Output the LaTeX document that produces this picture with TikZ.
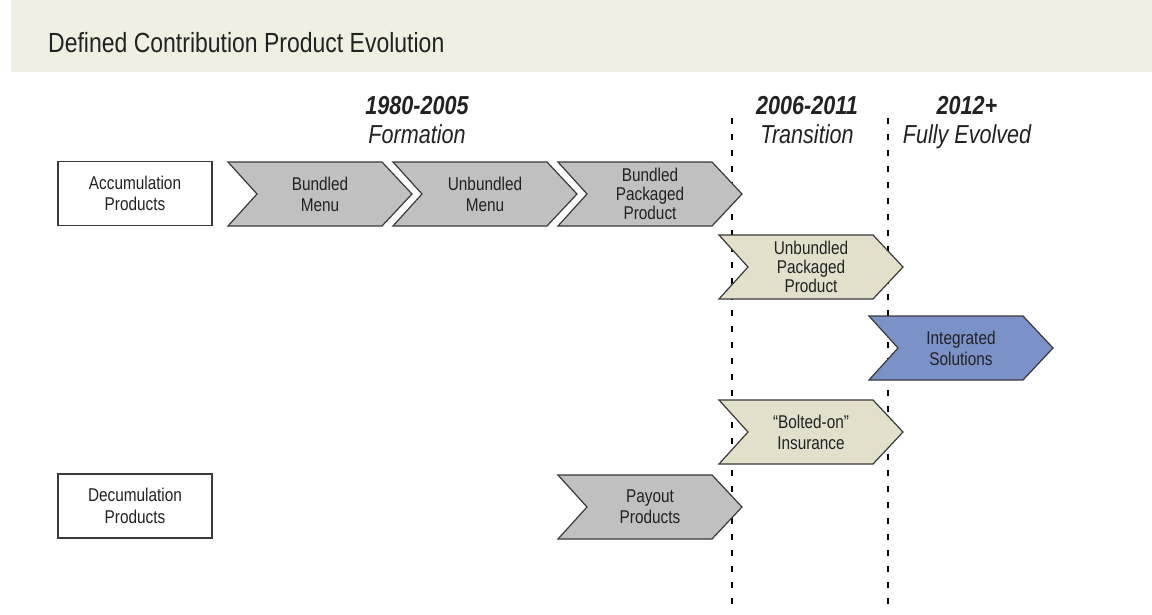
\documentclass[tikz,border=0pt]{standalone}
\usepackage{fontspec}
\setmainfont{Liberation Sans}[FakeStretch=0.83]
\definecolor{bandfill}{RGB}{240,239,228}
\definecolor{greyfill}{RGB}{192,192,192}
\definecolor{beigefill}{RGB}{226,224,203}
\definecolor{bluefill}{RGB}{123,146,201}
\definecolor{edge}{RGB}{58,58,58}
\definecolor{ink}{RGB}{34,34,34}
\tikzset{
  chevshape/.style={draw=edge, line width=1.2pt, line join=miter},
  chevtext/.style={text=ink, align=center, font=\fontsize{18.5}{21}\selectfont, inner sep=0pt},
  chevtextthree/.style={chevtext, font=\fontsize{18.5}{19}\selectfont},
  rowbox/.style={draw=edge, line width=1.2pt, fill=white, text=ink, align=center,
    font=\fontsize{18.5}{21.5}\selectfont, minimum width=154pt, minimum height=64pt, inner sep=0pt},
  period/.style={text=ink, align=center, inner sep=0pt},
  divider/.style={draw=black, line width=1.4pt, dash pattern=on 6pt off 10pt},
}
% chevron: name, left x, top y, fill colour, text style, text
\newcommand{\chevronstep}[6]{%
  \path[chevshape, fill=#4] (#2,#3) -- ({#2+154},#3) -- ({#2+184},{#3+32})
    -- ({#2+154},{#3+64}) -- (#2,{#3+64}) -- ({#2+29},{#3+32}) -- cycle;
  \node[#5] (#1) at ({#2+92},{#3+32}) {#6};%
}
\begin{document}
\begin{tikzpicture}[x=1pt, y=-1pt]
\useasboundingbox (0,0) rectangle (1152,614);
\fill[white] (0,0) rectangle (1152,614);

% title band
\fill[bandfill] (11,0) rectangle (1152,72);
\node[anchor=base west, text=ink, inner sep=0pt, font=\fontsize{27.7}{30}\selectfont]
  (title) at (48,52) {Defined Contribution Product Evolution};

% period headings
\node[period, anchor=base] (p1a) at (417,114) {\fontsize{26}{29}\selectfont\bfseries\itshape 1980-2005};
\node[period, anchor=base] (p1b) at (417,143) {\fontsize{26}{29}\selectfont\itshape Formation};
\node[period, anchor=base] (p2a) at (807,114) {\fontsize{26}{29}\selectfont\bfseries\itshape 2006-2011};
\node[period, anchor=base] (p2b) at (807,143) {\fontsize{26}{29}\selectfont\itshape Transition};
\node[period, anchor=base] (p3a) at (967,114) {\fontsize{26}{29}\selectfont\bfseries\itshape 2012+};
\node[period, anchor=base] (p3b) at (967,143) {\fontsize{26}{29}\selectfont\itshape Fully Evolved};

% era dividers
\coordinate (d1top) at (732,118);
\coordinate (d1bot) at (732,614);
\coordinate (d2top) at (888,118);
\coordinate (d2bot) at (888,614);
\draw[divider] (d1top) -- (d1bot);
\draw[divider] (d2top) -- (d2bot);

% product rows
\node[rowbox] (acc) at (135,193.5) {Accumulation\\Products};
\node[rowbox] (dec) at (135,506) {Decumulation\\Products};

\chevronstep{bm}{228}{162}{greyfill}{chevtext}{Bundled\\Menu}
\chevronstep{um}{393}{162}{greyfill}{chevtext}{Unbundled\\Menu}
\chevronstep{bpp}{558}{162}{greyfill}{chevtextthree}{Bundled\\Packaged\\Product}
\chevronstep{upp}{719}{235}{beigefill}{chevtextthree}{Unbundled\\Packaged\\Product}
\chevronstep{is}{869}{316}{bluefill}{chevtext}{Integrated\\Solutions}
\chevronstep{boi}{719}{400}{beigefill}{chevtext}{“Bolted-on”\\Insurance}
\chevronstep{pay}{558}{475}{greyfill}{chevtext}{Payout\\Products}
\end{tikzpicture}
\end{document}
